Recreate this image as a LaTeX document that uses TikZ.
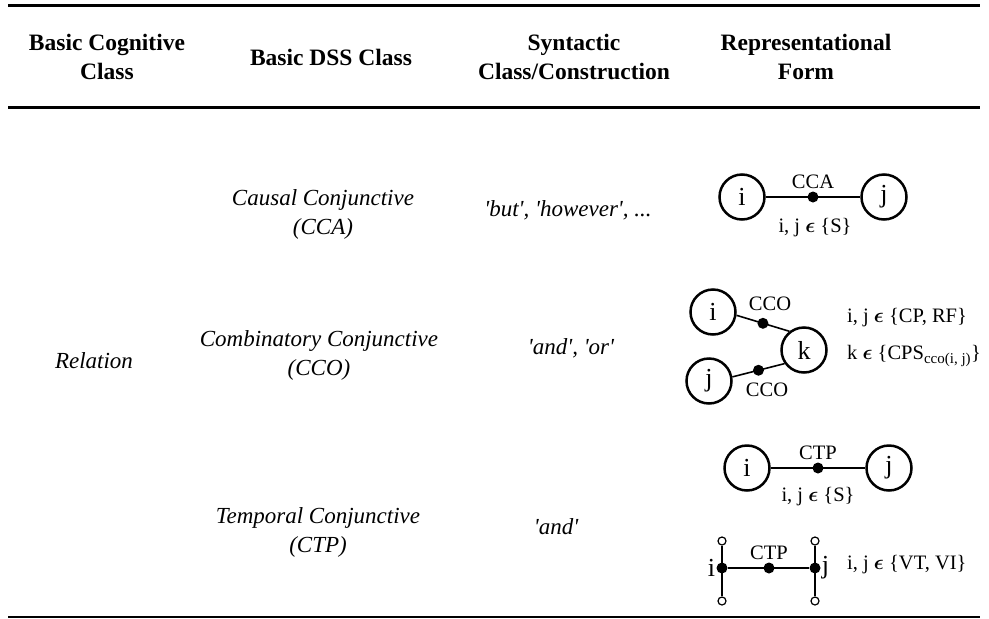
\documentclass[tikz,border=0pt]{standalone}
\usepackage{fontspec}
\usepackage{amsmath}
\setmainfont{Liberation Serif}
\usetikzlibrary{calc,positioning}
\newcommand{\sq}{\textquotesingle}
\newcommand{\inset}{$\boldsymbol{\epsilon}$}
\tikzset{
  rule/.style={line width=3pt},
  head/.style={font=\fontsize{23.5}{29}\selectfont\bfseries, align=center},
  body/.style={font=\fontsize{23}{29}\selectfont\itshape, align=center},
  vert/.style={draw, circle, line width=2.5pt, minimum size=45pt, inner sep=0pt, font=\fontsize{26}{26}\selectfont},
  dot/.style={circle, fill=black, minimum size=11pt, inner sep=0pt},
  tip/.style={circle, draw, line width=1.2pt, minimum size=8pt, inner sep=0pt},
  lab/.style={font=\fontsize{20.5}{22}\selectfont, inner sep=1pt},
  edge/.style={line width=1.6pt}
}
\begin{document}
\begin{tikzpicture}[x=1pt,y=-1pt]
\useasboundingbox (0,0) rectangle (989,619);
% rules
\draw[rule] (8,5) -- (980,5);
\draw[rule] (8,107) -- (980,107);
\draw[line width=2.2pt] (8,617) -- (980,617);
% header
\node[head] (hcog) at (107,57) {Basic Cognitive\\Class};
\node[head] (hdss) at (331,57) {Basic DSS Class};
\node[head] (hsyn) at (574,57) {Syntactic\\Class/Construction};
\node[head] (hrep) at (806,57) {Representational\\Form};
% body
\node[body] (rel) at (94,361) {Relation};
\node[body] (cca) at (323,214) {Causal Conjunctive\\(CCA)};
\node[body] (cco) at (319,355) {Combinatory Conjunctive\\(CCO)};
\node[body] (ctp) at (318,532) {Temporal Conjunctive\\(CTP)};
\node[body] (scca) at (568,210) {\sq but\sq, \sq however\sq, ...};
\node[body] (scco) at (571,348) {\sq and\sq, \sq or\sq};
\node[body] (sctp) at (556,527) {\sq and\sq};
% CCA
\node[vert] (i1) at (742,197) {i};
\node[vert] (j1) at (884,197) {j};
\draw[edge] (i1) -- (j1);
\node[dot] (d1) at ($(i1)!0.5!(j1)$) {};
\node[lab, above=1pt of d1] {CCA};
\node[lab] (s1) at (815,228) {i, j \inset\ \{S\}};
% CCO
\node[vert] (i2) at (713,312) {i};
\node[vert] (j2) at (709,381) {j};
\node[vert] (k2) at (804,350) {k};
\draw[edge] (i2.-8) -- node[dot, pos=0.5] (d2) {} (k2.128);
\draw[edge] (j2.10) -- node[dot, pos=0.5] (d3) {} (k2.215);
\node[lab] at (770,304) {CCO};
\node[lab] at (767,390) {CCO};
\node[lab, anchor=west] (s2) at (846,318) {i, j \inset\ \{CP, RF\}};
\node[lab, anchor=west] (s3) at (846,356) {k \inset\ \{CPS\textsubscript{\fontsize{15}{15}\selectfont cco(i, j)}\}};
% CTP
\node[vert] (i3) at (747,468) {i};
\node[vert] (j3) at (889,468) {j};
\draw[edge] (i3) -- (j3);
\node[dot] (d4) at ($(i3)!0.5!(j3)$) {};
\node[lab, above=1pt of d4] {CTP};
\node[lab] (s4) at (818,497) {i, j \inset\ \{S\}};
% CTP, verbs
\node[dot] (vi) at (722,568) {};
\node[dot] (vj) at (815,568) {};
\node[dot] (d5) at (769,568) {};
\node[tip] (ti) at (722,541) {};
\node[tip] (bi) at (722,601) {};
\node[tip] (tj) at (815,541) {};
\node[tip] (bj) at (815,601) {};
\draw[edge] (vi) -- (vj);
\draw[edge] (ti) -- (bi);
\draw[edge] (tj) -- (bj);
\node[lab, above=1pt of d5] {CTP};
\node[font=\fontsize{26}{26}\selectfont, left=0pt of vi, inner sep=1pt] {i};
\node[font=\fontsize{26}{26}\selectfont, right=0pt of vj, inner sep=1pt] {j};
\node[lab, anchor=west] (s5) at (846,565) {i, j \inset\ \{VT, VI\}};
\end{tikzpicture}
\end{document}
